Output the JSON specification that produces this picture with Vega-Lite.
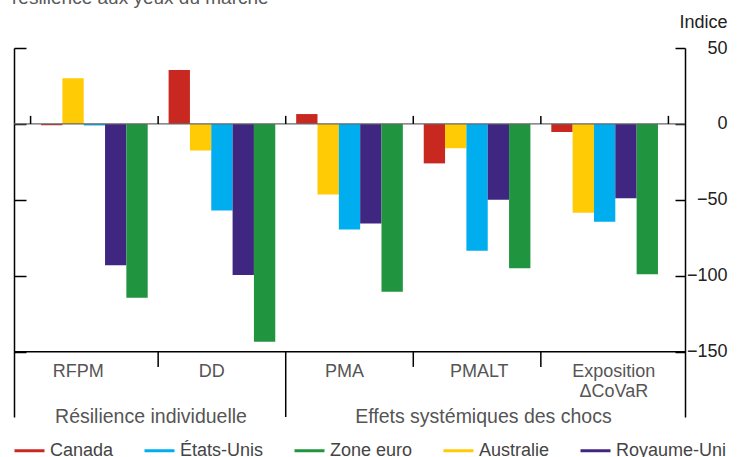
{
  "$schema": "https://vega.github.io/schema/vega-lite/v6.json",
  "width": 671,
  "height": 369,
  "autosize": {"type": "none"},
  "padding": {"left": 14, "top": 48, "right": 52, "bottom": 40},
  "background": "white",
  "title": {"text": "résilience aux yeux du marché", "anchor": "start", "frame": "group", "offset": -10, "baseline": "alphabetic", "dx": -2, "font": "Liberation Sans", "fontSize": 19, "fontWeight": "normal", "color": "#595959"},
  "config": {
    "view": {"stroke": null},
    "font": "Liberation Sans",
    "legend": {
      "orient": "none", "legendX": -1, "legendY": 386, "direction": "horizontal", "padding": 0,
      "symbolType": "stroke", "symbolSize": 900, "symbolStrokeWidth": 3,
      "labelFont": "Liberation Sans", "labelFontSize": 18, "labelColor": "#444444", "labelOffset": 4, "columnPadding": 24
    }
  },
  "datasets": {
    "bars": [
      {"cat": "RFPM", "country": "Canada", "value": -0.8},
      {"cat": "RFPM", "country": "Australie", "value": 30},
      {"cat": "RFPM", "country": "États-Unis", "value": -1},
      {"cat": "RFPM", "country": "Royaume-Uni", "value": -93},
      {"cat": "RFPM", "country": "Zone euro", "value": -114.5},
      {"cat": "DD", "country": "Canada", "value": 35.5},
      {"cat": "DD", "country": "Australie", "value": -17.5},
      {"cat": "DD", "country": "États-Unis", "value": -57},
      {"cat": "DD", "country": "Royaume-Uni", "value": -99.5},
      {"cat": "DD", "country": "Zone euro", "value": -143.5},
      {"cat": "PMA", "country": "Canada", "value": 6.5},
      {"cat": "PMA", "country": "Australie", "value": -46.5},
      {"cat": "PMA", "country": "États-Unis", "value": -69.5},
      {"cat": "PMA", "country": "Royaume-Uni", "value": -65.5},
      {"cat": "PMA", "country": "Zone euro", "value": -110.5},
      {"cat": "PMALT", "country": "Canada", "value": -26},
      {"cat": "PMALT", "country": "Australie", "value": -16},
      {"cat": "PMALT", "country": "États-Unis", "value": -83.5},
      {"cat": "PMALT", "country": "Royaume-Uni", "value": -50},
      {"cat": "PMALT", "country": "Zone euro", "value": -95},
      {"cat": "Exposition ΔCoVaR", "country": "Canada", "value": -5.3},
      {"cat": "Exposition ΔCoVaR", "country": "Australie", "value": -58.5},
      {"cat": "Exposition ΔCoVaR", "country": "États-Unis", "value": -64.5},
      {"cat": "Exposition ΔCoVaR", "country": "Royaume-Uni", "value": -49},
      {"cat": "Exposition ΔCoVaR", "country": "Zone euro", "value": -99}
    ],
    "cats": [
      {"cat": "RFPM", "label": ["RFPM"], "sep": "none"},
      {"cat": "DD", "label": ["DD"], "sep": "short"},
      {"cat": "PMA", "label": ["PMA"], "sep": "long"},
      {"cat": "PMALT", "label": ["PMALT"], "sep": "short"},
      {"cat": "Exposition ΔCoVaR", "label": ["Exposition", "ΔCoVaR"], "sep": "short"}
    ]
  },
  "resolve": {"axis": {"y": "independent"}},
  "layer": [
    {
      "data": {"name": "bars"},
      "mark": {"type": "bar"},
      "encoding": {
        "x": {"field": "cat", "type": "nominal", "axis": null,
              "scale": {"domain": ["RFPM", "DD", "PMA", "PMALT", "Exposition ΔCoVaR"], "paddingInner": 0, "paddingOuter": 0.13}},
        "xOffset": {"field": "country", "type": "nominal",
              "scale": {"domain": ["Canada", "Australie", "États-Unis", "Royaume-Uni", "Zone euro"], "paddingInner": 0, "paddingOuter": 0.49}},
        "y": {"field": "value", "type": "quantitative",
              "scale": {"domain": [-193, 50], "nice": false, "zero": false},
              "axis": {"orient": "left", "values": [50, 0, -50, -100, -150], "labels": false, "title": null, "grid": false,
                       "tickSize": -12, "tickColor": "#000000", "tickWidth": 1.5, "domainColor": "#000000", "domainWidth": 1.5}},
        "color": {"field": "country", "type": "nominal", "title": null,
              "scale": {"domain": ["Canada", "États-Unis", "Zone euro", "Australie", "Royaume-Uni"],
                        "range": ["#C8281F", "#00AEEF", "#21943F", "#FFCB05", "#3F2680"]},
              "legend": {"encode": {"symbols": {"update": {"stroke": {"scale": "color", "field": "value"}}}}}}
      }
    },
    {
      "data": {"values": [{}]},
      "mark": {"type": "rule", "color": "#666666", "strokeWidth": 1.2},
      "encoding": {
        "y": {"datum": 0, "type": "quantitative",
              "axis": {"orient": "right", "values": [50, 0, -50, -100, -150], "title": "Indice", "grid": false,
                       "tickSize": -10, "tickColor": "#000000", "tickWidth": 1.5, "domainColor": "#000000", "domainWidth": 1.5,
                       "labelAlign": "right", "labelPadding": 52, "labelFont": "Liberation Sans", "labelFontSize": 18, "labelColor": "#222222",
                       "titleAngle": 0, "titleAlign": "right", "titleBaseline": "alphabetic", "titleX": 42, "titleY": -21,
                       "titleFont": "Liberation Sans", "titleFontSize": 18, "titleFontWeight": "normal", "titleColor": "#222222"}}
      }
    },
    {
      "data": {"values": [{}]},
      "mark": {"type": "rule", "color": "#000000", "strokeWidth": 1.5},
      "encoding": {"y": {"datum": -150, "type": "quantitative", "axis": null}}
    },
    {
      "data": {"name": "cats"},
      "mark": {"type": "rule", "color": "#000000", "strokeWidth": 1.5},
      "encoding": {
        "x": {"field": "cat", "type": "nominal", "bandPosition": 0, "axis": null},
        "y": {"datum": 0, "type": "quantitative", "axis": null},
        "y2": {"datum": 5.3}
      }
    },
    {
      "data": {"values": [{}]},
      "mark": {"type": "rule", "color": "#000000", "strokeWidth": 1.5},
      "encoding": {
        "x": {"datum": "Exposition ΔCoVaR", "type": "nominal", "bandPosition": 1, "axis": null},
        "y": {"datum": 0, "type": "quantitative", "axis": null},
        "y2": {"datum": 5.3}
      }
    },
    {
      "data": {"name": "cats"},
      "transform": [{"filter": "datum.sep === 'short'"}],
      "mark": {"type": "rule", "color": "#000000", "strokeWidth": 1.5},
      "encoding": {
        "x": {"field": "cat", "type": "nominal", "bandPosition": 0, "axis": null},
        "y": {"datum": -150, "type": "quantitative", "axis": null},
        "y2": {"datum": -160}
      }
    },
    {
      "data": {"name": "cats"},
      "transform": [{"filter": "datum.sep === 'long'"}],
      "mark": {"type": "rule", "color": "#000000", "strokeWidth": 1.5},
      "encoding": {
        "x": {"field": "cat", "type": "nominal", "bandPosition": 0, "axis": null},
        "y": {"datum": -150, "type": "quantitative", "axis": null},
        "y2": {"datum": -193}
      }
    },
    {
      "data": {"name": "cats"},
      "transform": [{"filter": "datum.cat === 'RFPM'"}],
      "mark": {"type": "text", "font": "Liberation Sans", "fontSize": 18, "color": "#555555", "baseline": "alphabetic", "align": "center", "lineHeight": 20},
      "encoding": {
        "x": {"field": "cat", "type": "nominal", "bandPosition": 0.374, "axis": null},
        "y": {"datum": -166.4, "type": "quantitative", "axis": null},
        "text": {"field": "label"}
      }
    },
    {
      "data": {"name": "cats"},
      "transform": [{"filter": "datum.cat === 'DD'"}],
      "mark": {"type": "text", "font": "Liberation Sans", "fontSize": 18, "color": "#555555", "baseline": "alphabetic", "align": "center", "lineHeight": 20},
      "encoding": {
        "x": {"field": "cat", "type": "nominal", "bandPosition": 0.42, "axis": null},
        "y": {"datum": -166.4, "type": "quantitative", "axis": null},
        "text": {"field": "label"}
      }
    },
    {
      "data": {"name": "cats"},
      "transform": [{"filter": "datum.cat === 'PMA'"}],
      "mark": {"type": "text", "font": "Liberation Sans", "fontSize": 18, "color": "#555555", "baseline": "alphabetic", "align": "center", "lineHeight": 20},
      "encoding": {
        "x": {"field": "cat", "type": "nominal", "bandPosition": 0.46, "axis": null},
        "y": {"datum": -166.4, "type": "quantitative", "axis": null},
        "text": {"field": "label"}
      }
    },
    {
      "data": {"name": "cats"},
      "transform": [{"filter": "datum.cat === 'PMALT'"}],
      "mark": {"type": "text", "font": "Liberation Sans", "fontSize": 18, "color": "#555555", "baseline": "alphabetic", "align": "center", "lineHeight": 20},
      "encoding": {
        "x": {"field": "cat", "type": "nominal", "bandPosition": 0.517, "axis": null},
        "y": {"datum": -166.4, "type": "quantitative", "axis": null},
        "text": {"field": "label"}
      }
    },
    {
      "data": {"name": "cats"},
      "transform": [{"filter": "datum.cat === 'Exposition ΔCoVaR'"}],
      "mark": {"type": "text", "font": "Liberation Sans", "fontSize": 18, "color": "#555555", "baseline": "alphabetic", "align": "center", "lineHeight": 20},
      "encoding": {
        "x": {"field": "cat", "type": "nominal", "bandPosition": 0.572, "axis": null},
        "y": {"datum": -166.4, "type": "quantitative", "axis": null},
        "text": {"field": "label"}
      }
    },
    {
      "data": {"values": [{"g": "Résilience individuelle"}]},
      "mark": {"type": "text", "font": "Liberation Sans", "fontSize": 19.5, "color": "#555555", "baseline": "alphabetic", "align": "center"},
      "encoding": {
        "x": {"datum": "RFPM", "type": "nominal", "bandPosition": 0.944, "axis": null},
        "y": {"datum": -196.7, "type": "quantitative", "axis": null},
        "text": {"field": "g"}
      }
    },
    {
      "data": {"values": [{"g": "Effets systémiques des chocs"}]},
      "mark": {"type": "text", "font": "Liberation Sans", "fontSize": 19.5, "color": "#555555", "baseline": "alphabetic", "align": "center"},
      "encoding": {
        "x": {"datum": "PMALT", "type": "nominal", "bandPosition": 0.55, "axis": null},
        "y": {"datum": -196.7, "type": "quantitative", "axis": null},
        "text": {"field": "g"}
      }
    }
  ]
}
